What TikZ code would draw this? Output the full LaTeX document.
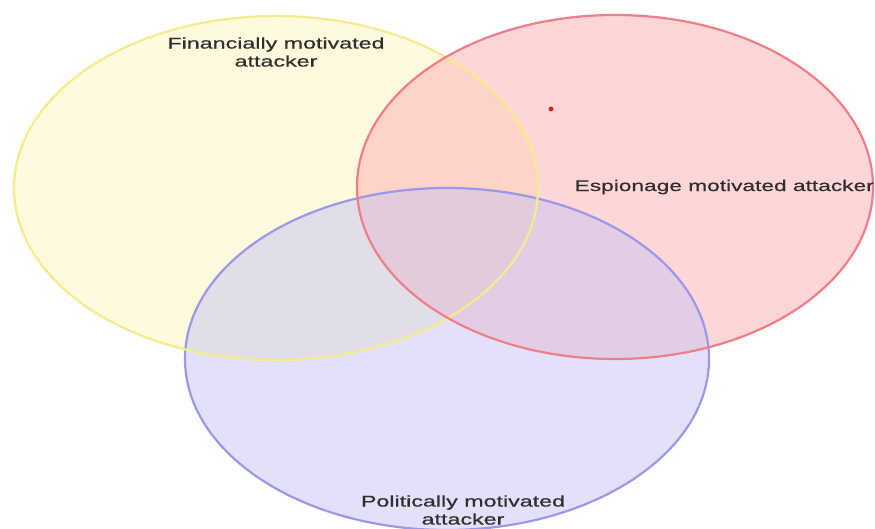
\documentclass[tikz,border=0pt]{standalone}
\usepackage{fontspec}
\newfontfamily\labelfont[FakeStretch=1.5, FakeBold=0.6]{Liberation Sans}
\newfontfamily\narrowlabelfont[FakeStretch=1.465, FakeBold=0.6]{Liberation Sans}
\definecolor{finFill}{HTML}{FFF3BE}
\definecolor{finLine}{HTML}{F4EC8C}
\definecolor{espFill}{HTML}{FFAEB0}
\definecolor{espLine}{HTML}{EE7F88}
\definecolor{polFill}{HTML}{C6C4F4}
\definecolor{polLine}{HTML}{9A98E8}
\definecolor{labelInk}{HTML}{2E2E2E}
\definecolor{dotRed}{HTML}{DD1F26}
\tikzset{
  setfill/.style={fill=#1, fill opacity=0.5, draw=none},
  setline/.style={draw=#1, line width=2.2pt},
  setlabel/.style={font=\labelfont\fontsize{15.5}{18}\selectfont, text=labelInk, align=center, inner sep=0pt},
}
\begin{document}
\begin{tikzpicture}[x=1pt, y=-1pt]
  \useasboundingbox (0,0) rectangle (875,529);
  \clip (0,0) rectangle (875,529);
  % set regions
  \coordinate (fin) at (276,188);
  \coordinate (esp) at (615,187);
  \coordinate (pol) at (447,359);
  \fill[setfill=finFill] (fin) ellipse [x radius=262, y radius=172];
  \fill[setfill=espFill] (esp) ellipse [x radius=258, y radius=172];
  \fill[setfill=polFill] (pol) ellipse [x radius=262, y radius=171];
  % outlines
  \draw[setline=polLine] (pol) ellipse [x radius=262, y radius=171];
  \draw[setline=finLine] (fin) ellipse [x radius=262, y radius=172];
  \draw[setline=espLine] (esp) ellipse [x radius=258, y radius=172];
  % labels
  \node[setlabel] (finLabel) at (276,52) {Financially motivated\\attacker};
  \node[setlabel, font=\narrowlabelfont\fontsize{15.5}{18}\selectfont, anchor=east] (espLabel) at (874,187) {Espionage motivated attacker};
  \node[setlabel] (polLabel) at (463,510) {Politically motivated\\attacker};
  % marker
  \fill[dotRed] (551,109) circle (2.4);
\end{tikzpicture}
\end{document}
